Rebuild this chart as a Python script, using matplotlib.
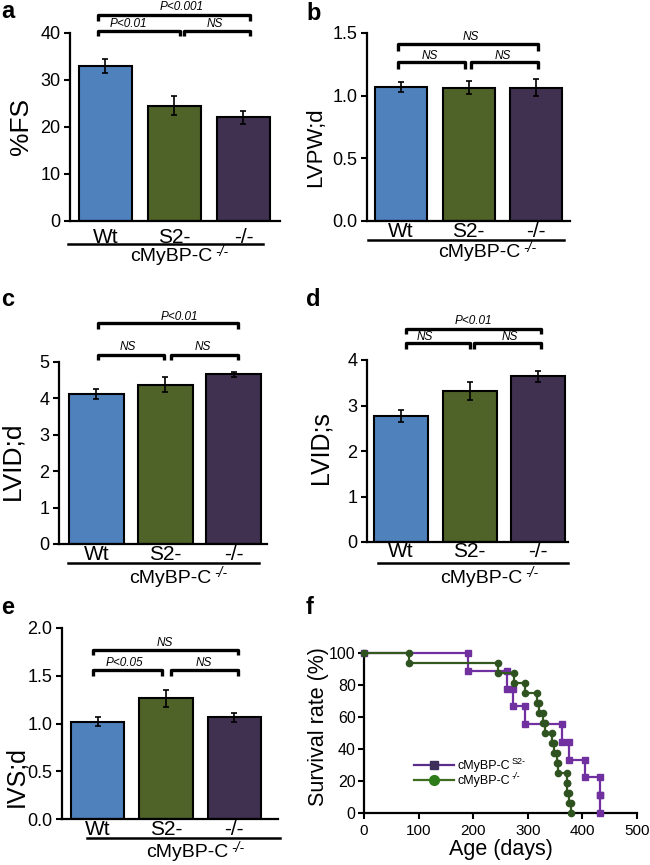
import matplotlib
matplotlib.use("Agg")
import matplotlib.pyplot as plt
from matplotlib.lines import Line2D
from matplotlib.ticker import FormatStrFormatter

plt.rcParams['font.family'] = ['Liberation Sans', 'DejaVu Sans']

# data
groups = ["Wt", "S2-", "-/-"]
bar_colors = ["#4f81bd", "#4f6228", "#403151"]

fs_mean = [33.0, 24.5, 22.1]
fs_err = [1.5, 2.0, 1.4]
fs_sig = ["P<0.001", "P<0.01", "NS"]

lvpw_mean = [1.07, 1.065, 1.065]
lvpw_err = [0.04, 0.055, 0.07]
lvpw_sig = ["NS", "NS", "NS"]

lvidd_mean = [4.12, 4.38, 4.66]
lvidd_err = [0.14, 0.20, 0.07]
lvidd_sig = ["P<0.01", "NS", "NS"]

lvids_mean = [2.77, 3.32, 3.64]
lvids_err = [0.13, 0.20, 0.12]
lvids_sig = ["P<0.01", "NS", "NS"]

ivs_mean = [1.02, 1.265, 1.063]
ivs_err = [0.045, 0.09, 0.045]
ivs_sig = ["NS", "P<0.05", "NS"]

# survival (days, %) for each event
s2_days = [0, 190, 262, 273, 295, 362, 375, 404, 433, 433]
s2_surv = [100, 88.9, 77.8, 66.7, 55.6, 44.4, 33.3, 22.2, 11.1, 0]
ko_days = [0, 83, 246, 274, 294, 317, 321, 327, 331, 345, 348, 354, 356, 371, 372, 375, 380]
ko_surv = [100, 93.75, 87.5, 81.25, 75, 68.75, 62.5, 56.25, 50, 43.75, 37.5,
           31.25, 25, 18.75, 12.5, 6.25, 0]
legend_names = ["cMyBP-C", "cMyBP-C"]
legend_sups = ["S2-", "-/-"]

W, H = 650, 865
fig = plt.figure(figsize=(W / 100, H / 100), dpi=100)


def add_ax(left, top, right, bottom):
    return fig.add_axes([left / W, 1 - bottom / H, (right - left) / W, (bottom - top) / H])


def add_sup(ax, txt, sup, size, italic=True):
    # small superscript placed right after a text (keeps plain hyphens)
    ax.annotate(sup, xy=(1, 0.8), xycoords=txt, xytext=(2, 0), textcoords="offset points",
                fontsize=size, style="italic" if italic else "normal", ha="left", va="center",
                zorder=10)


def bar_panel(ax, mean, err, sig, ylim, yticks, fmt, ylabel, lay):
    x = range(len(groups))
    ax.bar(x, mean, width=lay["bw"], color=bar_colors, edgecolor="black", linewidth=1.5, zorder=2)
    ax.errorbar(x, mean, yerr=err, fmt="none", ecolor="black", elinewidth=1.2,
                capsize=2.5, capthick=1.2, zorder=3)
    ax.set_xlim(*lay["xlim"])
    ax.set_ylim(*ylim)
    ax.set_yticks(yticks)
    ax.yaxis.set_major_formatter(FormatStrFormatter(fmt))
    ax.set_xticks(list(x))
    ax.set_xticklabels(groups, fontsize=15)
    ax.tick_params(axis="x", length=0, pad=lay["xpad"])
    ax.tick_params(axis="y", direction="out", length=4, width=1.5, labelsize=13, pad=3)
    for s in ["top", "right"]:
        ax.spines[s].set_visible(False)
    for s in ["left", "bottom"]:
        ax.spines[s].set_linewidth(1.6)
    ax.set_ylabel(ylabel, fontsize=lay["ylfs"])
    ax.yaxis.set_label_coords(*lay["ylpos"])

    tr = ax.get_xaxis_transform()
    # brackets: top one spans all, lower two split
    (tx0, tx1, ty, tyt, ttx, tty) = lay["top"]
    (lx0, lx1, rx0, rx1, ly, lyt, ltx, rtx, lty) = lay["low"]
    kw = dict(color="black", lw=2.4, transform=tr, clip_on=False, solid_capstyle="butt")
    ax.plot([tx0, tx0, tx1, tx1], [tyt, ty, ty, tyt], **kw)
    ax.plot([lx0, lx0, lx1, lx1], [lyt, ly, ly, lyt], **kw)
    ax.plot([rx0, rx0, rx1, rx1], [lyt, ly, ly, lyt], **kw)
    tkw = dict(transform=tr, fontsize=8.5, style="italic", ha="center", va="center")
    ax.text(ttx, tty, sig[0], **tkw)
    ax.text(ltx, lty, sig[1], **tkw)
    ax.text(rtx, lty, sig[2], **tkw)

    # group line and genotype label under ticks
    gx0, gx1, gy, cx, cy = lay["group"]
    ax.plot([gx0, gx1], [gy, gy], color="black", lw=1.8, transform=tr, clip_on=False)
    t = ax.text(cx - 0.13, cy, "cMyBP-C", transform=tr, fontsize=14, ha="center", va="center")
    add_sup(ax, t, "-/-", 10)


ax_a = add_ax(70, 33, 280, 221)
bar_panel(ax_a, fs_mean, fs_err, fs_sig, (0, 40), [0, 10, 20, 30, 40], "%d", "%FS",
          dict(bw=0.77, xlim=(-0.514, 2.53), xpad=5, ylfs=19, ylpos=(-0.175, 0.5),
               top=(-0.11, 2.09, 1.096, 1.064, 1.11, 1.138),
               low=(-0.11, 1.08, 1.14, 2.09, 1.011, 0.984, 0.33, 1.59, 1.048),
               group=(-0.54, 2.28, -0.122, 1.08, -0.19)))

ax_b = add_ax(367, 33, 570, 221)
bar_panel(ax_b, lvpw_mean, lvpw_err, lvpw_sig, (0, 1.5), [0, 0.5, 1.0, 1.5], "%.1f", "LVPW;d",
          dict(bw=0.77, xlim=(-0.504, 2.50), xpad=1, ylfs=16, ylpos=(-0.2, 0.39),
               top=(-0.04, 2.03, 0.941, 0.904, 1.03, 0.979),
               low=(-0.04, 0.95, 1.04, 2.03, 0.846, 0.809, 0.43, 1.51, 0.878),
               group=(-0.49, 2.41, -0.101, 1.29, -0.17)))

ax_c = add_ax(59, 362, 267, 544)
bar_panel(ax_c, lvidd_mean, lvidd_err, lvidd_sig, (0, 5), [0, 1, 2, 3, 4, 5], "%d", "LVID;d",
          dict(bw=0.8, xlim=(-0.545, 2.48), xpad=1, ylfs=19, ylpos=(-0.165, 0.46),
               top=(0.02, 2.06, 1.214, 1.181, 1.21, 1.247),
               low=(0.02, 0.98, 1.08, 2.06, 1.038, 1.011, 0.46, 1.55, 1.082),
               group=(-0.41, 2.36, -0.104, 1.21, -0.187)))

ax_d = add_ax(367, 360, 568, 542)
bar_panel(ax_d, lvids_mean, lvids_err, lvids_sig, (0, 4), [0, 1, 2, 3, 4], "%d", "LVID;s",
          dict(bw=0.79, xlim=(-0.50, 2.44), xpad=0, ylfs=18, ylpos=(-0.17, 0.52),
               top=(0.07, 2.04, 1.170, 1.143, 1.05, 1.214),
               low=(0.07, 1.01, 1.07, 2.04, 1.093, 1.060, 0.35, 1.59, 1.126),
               group=(-0.34, 2.44, -0.115, 1.30, -0.198)))

ax_e = add_ax(62, 628, 278, 819)
bar_panel(ax_e, ivs_mean, ivs_err, ivs_sig, (0, 2.0), [0, 0.5, 1.0, 1.5, 2.0], "%.1f", "IVS;d",
          dict(bw=0.78, xlim=(-0.52, 2.64), xpad=1, ylfs=18, ylpos=(-0.155, 0.22),
               top=(-0.07, 2.06, 0.885, 0.859, 0.99, 0.921),
               low=(-0.07, 0.95, 1.08, 2.06, 0.780, 0.749, 0.40, 1.55, 0.817),
               group=(-0.15, 2.67, -0.099, 1.44, -0.178)))


# survival curves
def step_vertices(days, surv):
    xs, ys = [days[0]], [surv[0]]
    for i in range(1, len(days)):
        xs += [days[i], days[i]]
        ys += [surv[i - 1], surv[i]]
    return xs, ys


ax_f = add_ax(364, 653, 637, 813)
sx, sy = step_vertices(s2_days, s2_surv)
kx, ky = step_vertices(ko_days, ko_surv)
ax_f.plot(sx, sy, color="#7030a0", lw=1.6, marker="s", markersize=4.2,
          markerfacecolor="#7030a0", markeredgecolor="#7030a0", clip_on=False, zorder=3)
ax_f.plot(kx, ky, color="#33591f", lw=1.6, marker="o", markersize=4.5,
          markerfacecolor="#2f5320", markeredgecolor="#2f5320", clip_on=False, zorder=4)
ax_f.set_xlim(0, 500)
ax_f.set_ylim(0, 100)
ax_f.set_xticks([0, 100, 200, 300, 400, 500])
ax_f.set_yticks([0, 20, 40, 60, 80, 100])
for s in ["top", "right"]:
    ax_f.spines[s].set_visible(False)
for s in ["left", "bottom"]:
    ax_f.spines[s].set_linewidth(1.6)
ax_f.tick_params(axis="both", direction="out", length=4, width=1.5)
ax_f.tick_params(axis="x", labelsize=11, pad=4)
ax_f.tick_params(axis="y", labelsize=11.5, pad=2)
ax_f.set_xlabel("Age (days)", fontsize=15.5, labelpad=1)
ax_f.set_ylabel("Survival rate (%)", fontsize=15.5)
ax_f.yaxis.set_label_coords(-0.13, 0.54)

handles = [
    Line2D([], [], color="#5a2d8a", lw=1.6, marker="s", markersize=6,
           markerfacecolor="#3d2f5b", markeredgecolor="#3d2f5b"),
    Line2D([], [], color="#3f6b1f", lw=1.6, marker="o", markersize=7,
           markerfacecolor="#2e7d1a", markeredgecolor="#2e7d1a"),
]
leg = ax_f.legend(handles, legend_names,
                  loc="upper left", bbox_to_anchor=(0.16, 0.37), frameon=False, fontsize=9,
                  handlelength=3.2, handletextpad=0.3, labelspacing=0.25, borderpad=0)
leg.set_zorder(5)
for lt, sup in zip(leg.get_texts(), legend_sups):
    ax_f.annotate(sup, xy=(1, 0.85), xycoords=lt, xytext=(1, 0), textcoords="offset points",
                  fontsize=6.5, ha="left", va="center", zorder=20,
                  style="italic" if sup == "-/-" else "normal")

# panel letters
for lx, ly, t in [(8, 12, "a"), (314, 13, "b"), (8, 300, "c"), (313, 300, "d"),
                  (8, 608, "e"), (310, 608, "f")]:
    fig.text(lx / W, 1 - ly / H, t, fontsize=17, fontweight="bold", ha="center", va="center")

fig.savefig("out.png", dpi=100)
